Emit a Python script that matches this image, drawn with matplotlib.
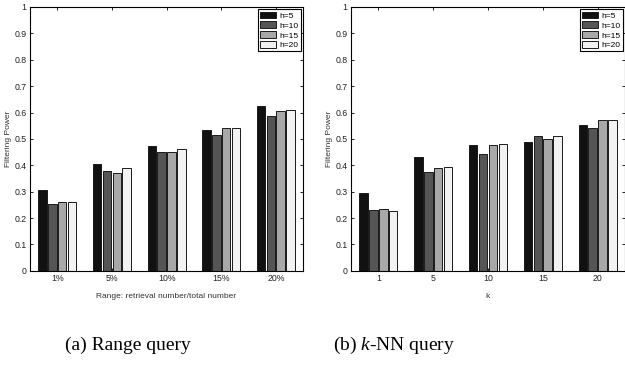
import matplotlib
matplotlib.use('Agg')
import matplotlib.pyplot as plt
import numpy as np

# data
range_labels = ['1%', '5%', '10%', '15%', '20%']
range_h5 = [0.305, 0.405, 0.475, 0.533, 0.623]
range_h10 = [0.255, 0.378, 0.450, 0.515, 0.588]
range_h15 = [0.260, 0.370, 0.450, 0.540, 0.605]
range_h20 = [0.260, 0.388, 0.463, 0.540, 0.608]

knn_labels = ['1', '5', '10', '15', '20']
knn_h5 = [0.295, 0.432, 0.477, 0.487, 0.552]
knn_h10 = [0.232, 0.375, 0.442, 0.510, 0.540]
knn_h15 = [0.235, 0.388, 0.477, 0.500, 0.570]
knn_h20 = [0.227, 0.393, 0.482, 0.510, 0.573]

series_names = ['h=5', 'h=10', 'h=15', 'h=20']
colors = ['#111111', '#555555', '#a8a8a8', '#f2f2f2']

plt.rcParams['font.family'] = 'Liberation Sans'
plt.rcParams['font.size'] = 6
plt.rcParams['axes.linewidth'] = 0.8
plt.rcParams['mathtext.fontset'] = 'custom'
plt.rcParams['mathtext.it'] = 'Liberation Serif:italic'
plt.rcParams['mathtext.rm'] = 'Liberation Serif'

fig = plt.figure(figsize=(6.25, 3.67), dpi=100)


def draw_panel(ax, labels, series, xlabel):
    x = np.arange(1, len(labels) + 1)
    pitch = 0.18
    for i, (vals, name, c) in enumerate(zip(series, series_names, colors)):
        ax.bar(x + (i - 1.5) * pitch, vals, width=0.155, color=c,
               edgecolor='#1a1a1a', linewidth=0.7, label=name)
    ax.set_xlim(0.5, len(labels) + 0.5)
    ax.set_ylim(0, 1)
    ax.set_xticks(x)
    ax.set_xticklabels(labels)
    ax.set_yticks(np.arange(0, 1.01, 0.1))
    ax.set_yticklabels(['0'] + ['%.1f' % v for v in np.arange(0.1, 0.95, 0.1)] + ['1'])
    ax.tick_params(direction='in', top=True, right=True, length=2.5, width=0.7,
                   pad=2.5, colors='#222222', labelsize=6.3)
    ax.set_ylabel('Filtering Power', fontsize=6, color='#333333', labelpad=1.5)
    ax.set_xlabel(xlabel, fontsize=6, color='#333333', labelpad=7)
    leg = ax.legend(loc='upper right', fancybox=False, edgecolor='black',
                    framealpha=1, fontsize=6, handlelength=1.9,
                    handleheight=0.9, labelspacing=0.18, borderpad=0.25,
                    borderaxespad=0.3, handletextpad=0.4)
    leg.get_frame().set_linewidth(0.8)


ax1 = fig.add_axes([0.048, 0.262, 0.437, 0.719])
draw_panel(ax1, range_labels, [range_h5, range_h10, range_h15, range_h20],
           'Range: retrieval number/total number')

ax2 = fig.add_axes([0.5616, 0.262, 0.4384, 0.719])
draw_panel(ax2, knn_labels, [knn_h5, knn_h10, knn_h15, knn_h20], 'k')

fig.text(128 / 625, 1 - 345 / 367, '(a) Range query', family='Liberation Serif',
         fontsize=14, ha='center', va='center')
fig.text(394 / 625, 1 - 345 / 367, '(b) $\\it{k}$-NN query', family='Liberation Serif',
         fontsize=14, ha='center', va='center')

fig.savefig('out.png', dpi=100)
